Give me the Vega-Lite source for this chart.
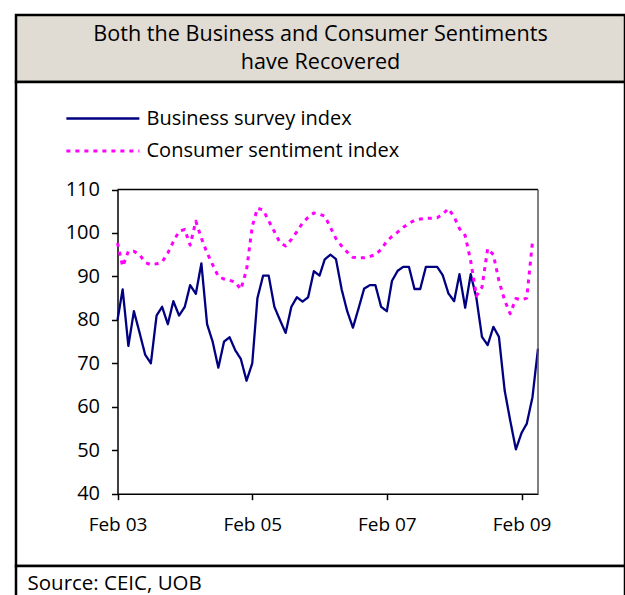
{
  "$schema": "https://vega.github.io/schema/vega-lite/v6.json",
  "background": "white",
  "padding": {"left": 14, "top": 13, "right": 0, "bottom": 0},
  "spacing": 0,
  "bounds": "flush",
  "config": {"font": "Open Sans", "view": {"stroke": null}},
  "vconcat": [
    {
      "width": 609,
      "height": 67,
      "view": {"fill": "#E0DBD3", "stroke": "#000000", "strokeWidth": 2.5},
      "data": {"values": [{"t": "Both the Business and Consumer Sentiments\nhave Recovered"}]},
      "mark": {"type": "text", "fontSize": 21.6, "lineHeight": 28, "baseline": "middle", "align": "center", "dy": -14, "color": "#000000", "lineBreak": "\n"},
      "encoding": {"text": {"field": "t", "type": "nominal"}}
    },
    {
      "width": 609,
      "height": 484,
      "view": {"fill": "white", "stroke": "#000000", "strokeWidth": 2.5},
      "layer": [
        {
          "data": {
            "values": [
              {"date": "2003-02-01", "series": "Business survey index", "value": 80},
              {"date": "2003-03-01", "series": "Business survey index", "value": 87},
              {"date": "2003-04-01", "series": "Business survey index", "value": 74},
              {"date": "2003-05-01", "series": "Business survey index", "value": 82},
              {"date": "2003-06-01", "series": "Business survey index", "value": 77},
              {"date": "2003-07-01", "series": "Business survey index", "value": 72},
              {"date": "2003-08-01", "series": "Business survey index", "value": 70},
              {"date": "2003-09-01", "series": "Business survey index", "value": 81},
              {"date": "2003-10-01", "series": "Business survey index", "value": 83},
              {"date": "2003-11-01", "series": "Business survey index", "value": 79},
              {"date": "2003-12-01", "series": "Business survey index", "value": 84.3},
              {"date": "2004-01-01", "series": "Business survey index", "value": 81},
              {"date": "2004-02-01", "series": "Business survey index", "value": 83},
              {"date": "2004-03-01", "series": "Business survey index", "value": 88},
              {"date": "2004-04-01", "series": "Business survey index", "value": 86},
              {"date": "2004-05-01", "series": "Business survey index", "value": 93},
              {"date": "2004-06-01", "series": "Business survey index", "value": 79},
              {"date": "2004-07-01", "series": "Business survey index", "value": 75},
              {"date": "2004-08-01", "series": "Business survey index", "value": 69},
              {"date": "2004-09-01", "series": "Business survey index", "value": 75},
              {"date": "2004-10-01", "series": "Business survey index", "value": 76},
              {"date": "2004-11-01", "series": "Business survey index", "value": 73},
              {"date": "2004-12-01", "series": "Business survey index", "value": 71},
              {"date": "2005-01-01", "series": "Business survey index", "value": 66},
              {"date": "2005-02-01", "series": "Business survey index", "value": 70},
              {"date": "2005-03-01", "series": "Business survey index", "value": 85},
              {"date": "2005-04-01", "series": "Business survey index", "value": 90.2},
              {"date": "2005-05-01", "series": "Business survey index", "value": 90.2},
              {"date": "2005-06-01", "series": "Business survey index", "value": 83},
              {"date": "2005-07-01", "series": "Business survey index", "value": 80},
              {"date": "2005-08-01", "series": "Business survey index", "value": 77},
              {"date": "2005-09-01", "series": "Business survey index", "value": 83},
              {"date": "2005-10-01", "series": "Business survey index", "value": 85.2},
              {"date": "2005-11-01", "series": "Business survey index", "value": 84.2},
              {"date": "2005-12-01", "series": "Business survey index", "value": 85.2},
              {"date": "2006-01-01", "series": "Business survey index", "value": 91.2},
              {"date": "2006-02-01", "series": "Business survey index", "value": 90.2},
              {"date": "2006-03-01", "series": "Business survey index", "value": 93.9},
              {"date": "2006-04-01", "series": "Business survey index", "value": 95},
              {"date": "2006-05-01", "series": "Business survey index", "value": 94},
              {"date": "2006-06-01", "series": "Business survey index", "value": 87},
              {"date": "2006-07-01", "series": "Business survey index", "value": 82},
              {"date": "2006-08-01", "series": "Business survey index", "value": 78.2},
              {"date": "2006-09-01", "series": "Business survey index", "value": 82.7},
              {"date": "2006-10-01", "series": "Business survey index", "value": 87.2},
              {"date": "2006-11-01", "series": "Business survey index", "value": 88},
              {"date": "2006-12-01", "series": "Business survey index", "value": 88},
              {"date": "2007-01-01", "series": "Business survey index", "value": 83},
              {"date": "2007-02-01", "series": "Business survey index", "value": 82},
              {"date": "2007-03-01", "series": "Business survey index", "value": 89},
              {"date": "2007-04-01", "series": "Business survey index", "value": 91.3},
              {"date": "2007-05-01", "series": "Business survey index", "value": 92.2},
              {"date": "2007-06-01", "series": "Business survey index", "value": 92.2},
              {"date": "2007-07-01", "series": "Business survey index", "value": 87.1},
              {"date": "2007-08-01", "series": "Business survey index", "value": 87.1},
              {"date": "2007-09-01", "series": "Business survey index", "value": 92.2},
              {"date": "2007-10-01", "series": "Business survey index", "value": 92.2},
              {"date": "2007-11-01", "series": "Business survey index", "value": 92.2},
              {"date": "2007-12-01", "series": "Business survey index", "value": 90.3},
              {"date": "2008-01-01", "series": "Business survey index", "value": 86.1},
              {"date": "2008-02-01", "series": "Business survey index", "value": 84.3},
              {"date": "2008-03-01", "series": "Business survey index", "value": 90.5},
              {"date": "2008-04-01", "series": "Business survey index", "value": 82.8},
              {"date": "2008-05-01", "series": "Business survey index", "value": 90.5},
              {"date": "2008-06-01", "series": "Business survey index", "value": 85},
              {"date": "2008-07-01", "series": "Business survey index", "value": 76.1},
              {"date": "2008-08-01", "series": "Business survey index", "value": 74.2},
              {"date": "2008-09-01", "series": "Business survey index", "value": 78.4},
              {"date": "2008-10-01", "series": "Business survey index", "value": 76.1},
              {"date": "2008-11-01", "series": "Business survey index", "value": 63.8},
              {"date": "2008-12-01", "series": "Business survey index", "value": 56.9},
              {"date": "2009-01-01", "series": "Business survey index", "value": 50.2},
              {"date": "2009-02-01", "series": "Business survey index", "value": 54},
              {"date": "2009-03-01", "series": "Business survey index", "value": 56.1},
              {"date": "2009-04-01", "series": "Business survey index", "value": 62.2},
              {"date": "2009-05-01", "series": "Business survey index", "value": 73.4},
              {"date": "2003-02-01", "series": "Consumer sentiment index", "value": 97.7},
              {"date": "2003-03-01", "series": "Consumer sentiment index", "value": 92.3},
              {"date": "2003-04-01", "series": "Consumer sentiment index", "value": 95.8},
              {"date": "2003-05-01", "series": "Consumer sentiment index", "value": 95.8},
              {"date": "2003-06-01", "series": "Consumer sentiment index", "value": 95},
              {"date": "2003-07-01", "series": "Consumer sentiment index", "value": 93.2},
              {"date": "2003-08-01", "series": "Consumer sentiment index", "value": 92.7},
              {"date": "2003-09-01", "series": "Consumer sentiment index", "value": 92.9},
              {"date": "2003-10-01", "series": "Consumer sentiment index", "value": 93.3},
              {"date": "2003-11-01", "series": "Consumer sentiment index", "value": 95.4},
              {"date": "2003-12-01", "series": "Consumer sentiment index", "value": 98},
              {"date": "2004-01-01", "series": "Consumer sentiment index", "value": 100.4},
              {"date": "2004-02-01", "series": "Consumer sentiment index", "value": 100.8},
              {"date": "2004-03-01", "series": "Consumer sentiment index", "value": 97.2},
              {"date": "2004-04-01", "series": "Consumer sentiment index", "value": 102.7},
              {"date": "2004-05-01", "series": "Consumer sentiment index", "value": 98.8},
              {"date": "2004-06-01", "series": "Consumer sentiment index", "value": 95.4},
              {"date": "2004-07-01", "series": "Consumer sentiment index", "value": 92.7},
              {"date": "2004-08-01", "series": "Consumer sentiment index", "value": 90},
              {"date": "2004-09-01", "series": "Consumer sentiment index", "value": 89.4},
              {"date": "2004-10-01", "series": "Consumer sentiment index", "value": 89.1},
              {"date": "2004-11-01", "series": "Consumer sentiment index", "value": 88.7},
              {"date": "2004-12-01", "series": "Consumer sentiment index", "value": 87},
              {"date": "2005-01-01", "series": "Consumer sentiment index", "value": 91.5},
              {"date": "2005-02-01", "series": "Consumer sentiment index", "value": 101.5},
              {"date": "2005-03-01", "series": "Consumer sentiment index", "value": 105.7},
              {"date": "2005-04-01", "series": "Consumer sentiment index", "value": 105.3},
              {"date": "2005-05-01", "series": "Consumer sentiment index", "value": 102.8},
              {"date": "2005-06-01", "series": "Consumer sentiment index", "value": 100.3},
              {"date": "2005-07-01", "series": "Consumer sentiment index", "value": 97.8},
              {"date": "2005-08-01", "series": "Consumer sentiment index", "value": 97},
              {"date": "2005-09-01", "series": "Consumer sentiment index", "value": 98.5},
              {"date": "2005-10-01", "series": "Consumer sentiment index", "value": 100.3},
              {"date": "2005-11-01", "series": "Consumer sentiment index", "value": 102.3},
              {"date": "2005-12-01", "series": "Consumer sentiment index", "value": 103.6},
              {"date": "2006-01-01", "series": "Consumer sentiment index", "value": 104.6},
              {"date": "2006-02-01", "series": "Consumer sentiment index", "value": 104.3},
              {"date": "2006-03-01", "series": "Consumer sentiment index", "value": 103.9},
              {"date": "2006-04-01", "series": "Consumer sentiment index", "value": 101.3},
              {"date": "2006-05-01", "series": "Consumer sentiment index", "value": 98.7},
              {"date": "2006-06-01", "series": "Consumer sentiment index", "value": 97},
              {"date": "2006-07-01", "series": "Consumer sentiment index", "value": 95.6},
              {"date": "2006-08-01", "series": "Consumer sentiment index", "value": 94.4},
              {"date": "2006-09-01", "series": "Consumer sentiment index", "value": 94.3},
              {"date": "2006-10-01", "series": "Consumer sentiment index", "value": 94.3},
              {"date": "2006-11-01", "series": "Consumer sentiment index", "value": 94.6},
              {"date": "2006-12-01", "series": "Consumer sentiment index", "value": 95},
              {"date": "2007-01-01", "series": "Consumer sentiment index", "value": 96.2},
              {"date": "2007-02-01", "series": "Consumer sentiment index", "value": 98.1},
              {"date": "2007-03-01", "series": "Consumer sentiment index", "value": 99.2},
              {"date": "2007-04-01", "series": "Consumer sentiment index", "value": 100.2},
              {"date": "2007-05-01", "series": "Consumer sentiment index", "value": 101.3},
              {"date": "2007-06-01", "series": "Consumer sentiment index", "value": 102.2},
              {"date": "2007-07-01", "series": "Consumer sentiment index", "value": 102.9},
              {"date": "2007-08-01", "series": "Consumer sentiment index", "value": 103.2},
              {"date": "2007-09-01", "series": "Consumer sentiment index", "value": 103.4},
              {"date": "2007-10-01", "series": "Consumer sentiment index", "value": 103.4},
              {"date": "2007-11-01", "series": "Consumer sentiment index", "value": 103.5},
              {"date": "2007-12-01", "series": "Consumer sentiment index", "value": 104.3},
              {"date": "2008-01-01", "series": "Consumer sentiment index", "value": 105.6},
              {"date": "2008-02-01", "series": "Consumer sentiment index", "value": 103.7},
              {"date": "2008-03-01", "series": "Consumer sentiment index", "value": 101},
              {"date": "2008-04-01", "series": "Consumer sentiment index", "value": 99.4},
              {"date": "2008-05-01", "series": "Consumer sentiment index", "value": 93.5},
              {"date": "2008-06-01", "series": "Consumer sentiment index", "value": 85.5},
              {"date": "2008-07-01", "series": "Consumer sentiment index", "value": 87.5},
              {"date": "2008-08-01", "series": "Consumer sentiment index", "value": 96.4},
              {"date": "2008-09-01", "series": "Consumer sentiment index", "value": 95},
              {"date": "2008-10-01", "series": "Consumer sentiment index", "value": 89},
              {"date": "2008-11-01", "series": "Consumer sentiment index", "value": 84.5},
              {"date": "2008-12-01", "series": "Consumer sentiment index", "value": 81.4},
              {"date": "2009-01-01", "series": "Consumer sentiment index", "value": 84.9},
              {"date": "2009-02-01", "series": "Consumer sentiment index", "value": 84.6},
              {"date": "2009-03-01", "series": "Consumer sentiment index", "value": 85},
              {"date": "2009-04-01", "series": "Consumer sentiment index", "value": 98}
            ]
          },
          "mark": {"type": "line", "strokeJoin": "round"},
          "encoding": {
            "x": {
              "field": "date",
              "type": "temporal",
              "scale": {
                "type": "utc",
                "domain": [
                  {"year": 2003, "month": 2, "date": 1, "utc": true},
                  {"year": 2009, "month": 5, "date": 1, "utc": true}
                ],
                "range": [101.5, 522]
              },
              "axis": {
                "orient": "bottom",
                "offset": -72.3,
                "values": [
                  {"year": 2003, "month": 2, "date": 1, "utc": true},
                  {"year": 2005, "month": 2, "date": 1, "utc": true},
                  {"year": 2007, "month": 2, "date": 1, "utc": true},
                  {"year": 2009, "month": 2, "date": 1, "utc": true}
                ],
                "labelExpr": "utcFormat(datum.value, '%b %y')",
                "title": null,
                "grid": false,
                "labelFontSize": 19,
                "labelPadding": 16,
                "labelColor": "#000000",
                "labelFlush": false,
                "labelOverlap": false,
                "tickSize": 6,
                "tickColor": "#000000",
                "tickWidth": 1.5,
                "domainColor": "#000000",
                "domainWidth": 1.5
              }
            },
            "y": {
              "field": "value",
              "type": "quantitative",
              "scale": {"domain": [40, 110], "range": [411.7, 107.5], "nice": false, "zero": false},
              "axis": {
                "orient": "left",
                "offset": -101.5,
                "values": [40, 50, 60, 70, 80, 90, 100, 110],
                "title": null,
                "grid": false,
                "labelFontSize": 20,
                "labelPadding": 12,
                "labelColor": "#000000",
                "labelFlush": false,
                "tickSize": 6,
                "tickColor": "#000000",
                "tickWidth": 1.5,
                "domainColor": "#000000",
                "domainWidth": 1.5
              }
            },
            "color": {
              "field": "series",
              "type": "nominal",
              "scale": {"domain": ["Business survey index", "Consumer sentiment index"], "range": ["#000080", "#FF00FF"]},
              "legend": {
                "orient": "none",
                "legendX": 48.5,
                "legendY": 93,
                "title": null,
                "symbolType": "M-1,0H7",
                "symbolSize": 333,
                "symbolStrokeWidth": 2.5,
                "labelFontSize": 20,
                "labelLimit": 0,
                "labelColor": "#000000",
                "labelOffset": 60,
                "rowPadding": 11,
                "padding": 0
              }
            },
            "strokeDash": {
              "field": "series",
              "type": "nominal",
              "scale": {"domain": ["Business survey index", "Consumer sentiment index"], "range": [[1, 0], [4, 5]]},
              "legend": {
                "orient": "none",
                "legendX": 48.5,
                "legendY": 93,
                "title": null,
                "symbolType": "M-1,0H7",
                "symbolSize": 333,
                "symbolStrokeWidth": 2.5,
                "labelFontSize": 20,
                "labelLimit": 0,
                "labelColor": "#000000",
                "labelOffset": 60,
                "rowPadding": 11,
                "padding": 0
              }
            },
            "strokeWidth": {
              "field": "series",
              "type": "ordinal",
              "scale": {"domain": ["Business survey index", "Consumer sentiment index"], "range": [2.3, 3]},
              "legend": null
            }
          }
        },
        {
          "data": {"values": [{}]},
          "mark": {"type": "rule", "color": "#000000", "strokeWidth": 1.5},
          "encoding": {
            "x": {"datum": {"year": 2003, "month": 2, "date": 1, "utc": true}, "type": "temporal"},
            "x2": {"datum": {"year": 2009, "month": 5, "date": 1, "utc": true}},
            "y": {"datum": 110, "type": "quantitative"}
          }
        },
        {
          "data": {"values": [{}]},
          "mark": {"type": "rule", "color": "#555555", "strokeWidth": 1.5},
          "encoding": {
            "x": {"datum": {"year": 2009, "month": 5, "date": 1, "utc": true}, "type": "temporal"},
            "y": {"datum": 40, "type": "quantitative"},
            "y2": {"datum": 110}
          }
        }
      ]
    },
    {
      "width": 609,
      "height": 40,
      "view": {"fill": "white", "stroke": "#000000", "strokeWidth": 2.5},
      "data": {"values": [{"t": "Source: CEIC, UOB"}]},
      "mark": {"type": "text", "align": "left", "baseline": "middle", "dx": -293, "dy": -2, "fontSize": 20.5, "color": "#000000"},
      "encoding": {"text": {"field": "t", "type": "nominal"}}
    }
  ]
}
